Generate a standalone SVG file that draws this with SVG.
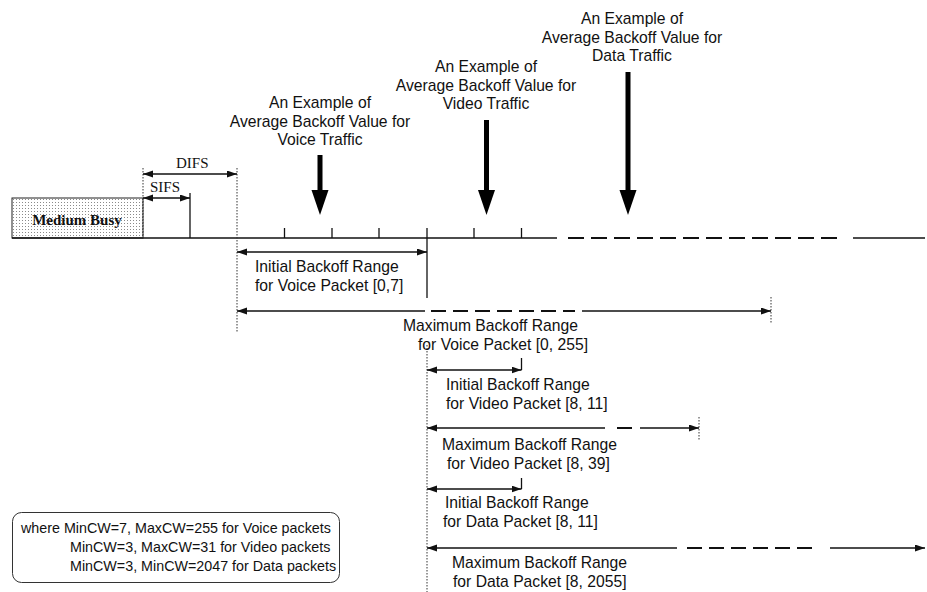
<svg xmlns="http://www.w3.org/2000/svg" width="927" height="592" viewBox="0 0 927 592">
<defs>
<pattern id="dots" width="3" height="3" patternUnits="userSpaceOnUse">
<rect width="3" height="3" fill="#fff"/>
<rect x="1" y="1" width="1" height="1" fill="#8a8a8a"/>
</pattern>
<marker id="ah" markerUnits="userSpaceOnUse" markerWidth="11" markerHeight="8" refX="10" refY="3.5" orient="auto-start-reverse">
<path d="M0,0 L10,3.5 L0,7 z" fill="#111"/>
</marker>
<style>
.ln{stroke:#111;stroke-width:1.3;fill:none}
.dsh{stroke:#111;stroke-width:2;fill:none}
.dot{stroke:#333;stroke-width:1;fill:none;stroke-dasharray:1.5 1.5}
.t{font-family:"Liberation Sans",Arial,sans-serif;font-size:15.7px;fill:#111}
.tc{font-family:"Liberation Sans",Arial,sans-serif;font-size:15.7px;fill:#111;text-anchor:middle}
.s{font-family:"Liberation Serif","Times New Roman",serif;font-size:15px;fill:#111}
.lg{font-family:"Liberation Sans",Arial,sans-serif;font-size:14.3px;fill:#111}
.big{fill:#000}
</style>
</defs>

<g id="medium-busy">
<rect x="12" y="198" width="131" height="40" fill="url(#dots)" stroke="#222" stroke-width="1"/>
<text class="s" x="77" y="225" text-anchor="middle" font-weight="bold">Medium Busy</text>
</g>

<g id="timeline">
<line class="ln" x1="12" y1="238" x2="557" y2="238"/>
<path class="dsh" d="M568,238h16M591,238h16M614,238h16M637,238h16M660,238h16M683,238h16M706,238h16M729,238h16M752,238h16M775,238h16M798,238h16M821,238h16"/>
<line class="ln" x1="853" y1="238" x2="925" y2="238"/>
<line class="ln" x1="284.5" y1="228" x2="284.5" y2="238"/>
<line class="ln" x1="332" y1="228" x2="332" y2="238"/>
<line class="ln" x1="379" y1="228" x2="379" y2="238"/>
<line class="ln" x1="474" y1="228" x2="474" y2="238"/>
<line class="ln" x1="521.5" y1="228" x2="521.5" y2="238"/>
<line class="ln" x1="427" y1="228" x2="427" y2="298"/>
</g>

<g id="guides">
<line class="dot" x1="143" y1="168" x2="143" y2="238"/>
<line class="ln" x1="190" y1="193" x2="190" y2="238" stroke="#555"/>
<line class="dot" x1="237" y1="168" x2="237" y2="333"/>
<line class="dot" x1="427" y1="345" x2="427" y2="592"/>
<line class="dot" x1="771" y1="297" x2="771" y2="323"/>
<line class="dot" x1="699" y1="417" x2="699" y2="441"/>
<line class="ln" x1="521.5" y1="358" x2="521.5" y2="370"/>
<line class="ln" x1="521.5" y1="478" x2="521.5" y2="489"/>
</g>

<g id="connectors">
<line class="ln" x1="143" y1="174" x2="237" y2="174" marker-start="url(#ah)" marker-end="url(#ah)"/>
<line class="ln" x1="143" y1="198" x2="190" y2="198" marker-start="url(#ah)" marker-end="url(#ah)"/>
<line class="ln" x1="237" y1="252" x2="427" y2="252" marker-start="url(#ah)" marker-end="url(#ah)"/>
<line class="ln" x1="237" y1="311" x2="425" y2="311" marker-start="url(#ah)"/>
<path class="dsh" d="M431,311h15M453,311h15M475,311h15M497,311h15M519,311h15M541,311h15M563,311h12"/>
<line class="ln" x1="582" y1="311" x2="771" y2="311" marker-end="url(#ah)"/>
<line class="ln" x1="427" y1="370" x2="521.5" y2="370" marker-start="url(#ah)" marker-end="url(#ah)"/>
<line class="ln" x1="427" y1="428" x2="605" y2="428" marker-start="url(#ah)"/>
<line class="dsh" x1="617" y1="428" x2="632" y2="428"/>
<line class="ln" x1="640" y1="428" x2="699" y2="428" marker-end="url(#ah)"/>
<line class="ln" x1="427" y1="489" x2="521.5" y2="489" marker-start="url(#ah)" marker-end="url(#ah)"/>
<line class="ln" x1="427" y1="548" x2="677" y2="548" marker-start="url(#ah)"/>
<path class="dsh" d="M687,548h15M709,548h15M731,548h15M753,548h15M775,548h15M797,548h15"/>
<line class="ln" x1="830" y1="548" x2="925" y2="548" marker-end="url(#ah)"/>
</g>

<g id="timing-labels">
<text class="s" x="176" y="168">DIFS</text>
<text class="s" x="150" y="192">SIFS</text>
</g>

<g id="voice-example">
<text class="tc" x="320" y="108">An Example of</text>
<text class="tc" x="320" y="127">Average Backoff Value for</text>
<text class="tc" x="320" y="145">Voice Traffic</text>
<rect class="big" x="317.5" y="155" width="5" height="37"/>
<polygon class="big" points="311.5,190 328.5,190 320,215"/>
</g>

<g id="video-example">
<text class="tc" x="486" y="72">An Example of</text>
<text class="tc" x="486" y="91">Average Backoff Value for</text>
<text class="tc" x="486" y="109">Video Traffic</text>
<rect class="big" x="484" y="120" width="5" height="72"/>
<polygon class="big" points="478,190 495,190 486.5,215"/>
</g>

<g id="data-example">
<text class="tc" x="632" y="24">An Example of</text>
<text class="tc" x="632" y="43">Average Backoff Value for</text>
<text class="tc" x="632" y="61">Data Traffic</text>
<rect class="big" x="625.5" y="72" width="5" height="120"/>
<polygon class="big" points="619.5,190 636.5,190 628,215"/>
</g>

<g id="voice-initial">
<text class="t" x="255" y="272">Initial Backoff Range</text>
<text class="t" x="255" y="291">for Voice Packet [0,7]</text>
</g>
<g id="voice-max">
<text class="t" x="403" y="331">Maximum Backoff Range</text>
<text class="t" x="418" y="350">for Voice Packet [0, 255]</text>
</g>
<g id="video-initial">
<text class="t" x="446" y="390">Initial Backoff Range</text>
<text class="t" x="446" y="409">for Video Packet [8, 11]</text>
</g>
<g id="video-max">
<text class="t" x="442" y="450">Maximum Backoff Range</text>
<text class="t" x="447" y="469">for Video Packet [8, 39]</text>
</g>
<g id="data-initial">
<text class="t" x="445" y="508">Initial Backoff Range</text>
<text class="t" x="443" y="527">for Data Packet [8, 11]</text>
</g>
<g id="data-max">
<text class="t" x="452" y="568">Maximum Backoff Range</text>
<text class="t" x="453" y="587">for Data Packet [8, 2055]</text>
</g>

<g id="legend">
<rect x="12.5" y="512.5" width="327" height="70" rx="9" fill="none" stroke="#333" stroke-width="1"/>
<text class="lg" x="21" y="533">where MinCW=7, MaxCW=255 for Voice packets</text>
<text class="lg" x="70" y="552">MinCW=3, MaxCW=31 for Video packets</text>
<text class="lg" x="70" y="571">MinCW=3, MinCW=2047 for Data packets</text>
</g>
</svg>
